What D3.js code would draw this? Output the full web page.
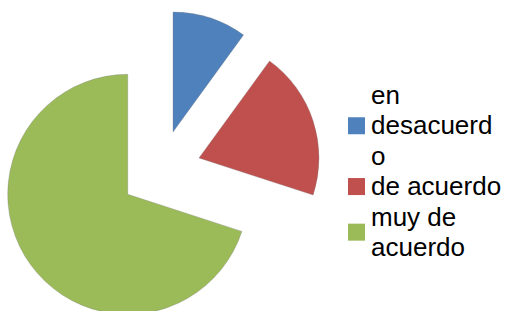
<!DOCTYPE html>
<html>
<head>
<meta charset="utf-8">
<script src="https://cdn.jsdelivr.net/npm/d3@7"></script>
<style>
  html, body { margin: 0; padding: 0; background: #fff; }
  svg { display: block; }
</style>
</head>
<body>
<svg id="chart" width="508" height="311"></svg>
<script>
const categories = ["en desacuerdo", "de acuerdo", "muy de acuerdo"];
const values = [10, 20, 70];
const legendLines = [["en", "desacuerd", "o"], ["de acuerdo"], ["muy de", "acuerdo"]];
const colors = ["#4F81BD", "#C0504D", "#9BBB59"];

const W = 508, H = 311;
const svg = d3.select("#chart");

const cx = 160.5, cy = 170.5, R = 120, explode = 40.5;

const pie = d3.pie().sort(null).value(d => d.v).startAngle(0).endAngle(2 * Math.PI);
const arc = d3.arc().innerRadius(0).outerRadius(R);
const data = pie(categories.map((c, i) => ({ c, v: values[i], color: colors[i] })));

const g = svg.append("g").attr("transform", `translate(${cx},${cy})`);
g.selectAll("path")
  .data(data)
  .join("path")
  .attr("d", arc)
  .attr("fill", d => d.data.color)
  .attr("stroke", "rgba(120,120,120,0.45)")
  .attr("stroke-width", 0.7)
  .attr("transform", d => {
    const a = (d.startAngle + d.endAngle) / 2;
    return `translate(${explode * Math.sin(a)},${-explode * Math.cos(a)})`;
  });

// Legend
const fontSize = 26, lineH = 30.4;
const legendX = 348, textX = 371, firstBaseline = 104;
const sq = 17;
const lg = svg.append("g").attr("class", "legend");
let lineIdx = 0;
categories.forEach((c, i) => {
  const lines = legendLines[i];
  const n = lines.length;
  const topBase = firstBaseline + lineIdx * lineH;
  const mid = topBase - 8.64 + (n - 1) * lineH / 2;
  lg.append("rect")
    .attr("x", legendX).attr("y", mid - sq / 2)
    .attr("width", sq).attr("height", sq)
    .attr("fill", colors[i]);
  const t = lg.append("text")
    .attr("font-family", "Liberation Sans, Arial, sans-serif")
    .attr("font-size", fontSize)
    .attr("fill", "#000");
  lines.forEach((ln, k) => {
    t.append("tspan").attr("x", textX).attr("y", topBase + k * lineH).text(ln);
  });
  lineIdx += n;
});
</script>
</body>
</html>
